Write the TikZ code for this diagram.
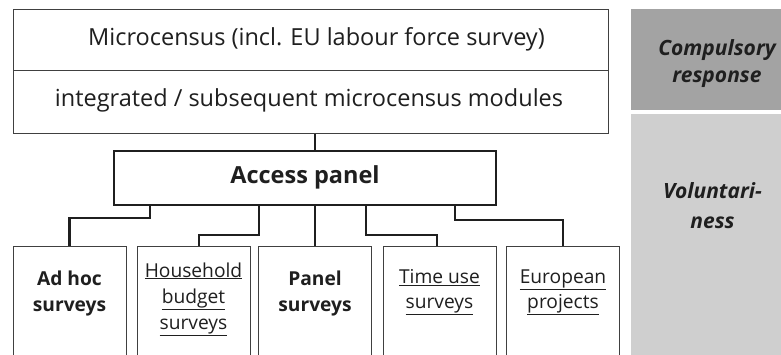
\documentclass[tikz,border=0pt]{standalone}
\usepackage{fontspec}
\setmainfont{Open Sans}
\begin{document}
\begin{tikzpicture}[x=1pt,y=-1pt,
  ink/.style={text=black!88},
  thinbox/.style={draw=black!75, line width=0.9pt, fill=white, rectangle, inner sep=0pt},
  thickbox/.style={draw=black!88, line width=2.2pt, fill=white, rectangle, inner sep=0pt},
  conn/.style={draw=black!88, line width=2.2pt},
  survey/.style={thinbox, minimum width=113pt, minimum height=140pt, anchor=north},
  toptxt/.style={ink, anchor=base, inner sep=0pt, font=\fontsize{23.5}{28}\selectfont},
  stxt/.style={ink, anchor=base, inner sep=0pt, font=\fontsize{19.2}{24}\selectfont},
  sbold/.style={stxt, font=\fontsize{19.2}{24}\selectfont\bfseries},
  sidetxt/.style={ink, anchor=base, inner sep=0pt, font=\fontsize{21}{26}\selectfont\bfseries\itshape}]
\useasboundingbox (0,0) rectangle (781,354);
\clip (0,0) rectangle (781,354);

% response categories on the right
\node[fill=black!36, minimum width=160pt, minimum height=101pt, anchor=north west, inner sep=0pt] (comp) at (631,9) {};
\node[fill=black!19, minimum width=160pt, minimum height=250pt, anchor=north west, inner sep=0pt] (vol) at (631,114) {};
\node[sidetxt] (comp1) at (717,55) {Compulsory};
\node[sidetxt] (comp2) at (717,82) {response};
\node[sidetxt] (vol1) at (712.5,198) {Voluntari-};
\node[sidetxt] (vol2) at (712.5,228) {ness};

% microcensus block
\node[thinbox, minimum width=595pt, minimum height=61pt] (mc1) at (310.5,39.5) {};
\node[thinbox, minimum width=595pt, minimum height=63pt, anchor=north] (mc2) at (mc1.south) {};
\node[toptxt] (mc1t) at ([xshift=6pt,yshift=-5.5pt]mc1.center) {Microcensus (incl. EU labour force survey)};
\node[toptxt] (mc2t) at ([xshift=-1.5pt,yshift=-4.5pt]mc2.center) {integrated / subsequent microcensus modules};

% survey boxes (open towards the bottom)
\node[survey] (b1) at (69.5,246) {};
\node[survey] (b2) at (193.5,246) {};
\node[survey] (b3) at (315,246) {};
\node[survey] (b4) at (439.5,246) {};
\node[survey] (b5) at (563,246) {};
\node[sbold] (b1a) at ([yshift=-39pt]b1.north) {Ad hoc};
\node[sbold] (b1b) at ([yshift=-65pt]b1.north) {surveys};
\node[stxt] (b2a) at ([yshift=-31pt]b2.north) {\underline{Household}};
\node[stxt] (b2b) at ([yshift=-57pt]b2.north) {\underline{budget}};
\node[stxt] (b2c) at ([yshift=-83pt]b2.north) {\underline{surveys}};
\node[sbold] (b3a) at ([yshift=-39pt]b3.north) {Panel};
\node[sbold] (b3b) at ([yshift=-65pt]b3.north) {surveys};
\node[stxt] (b4a) at ([yshift=-37.5pt]b4.north) {\underline{Time use}};
\node[stxt] (b4b) at ([yshift=-62pt]b4.north) {\underline{surveys}};
\node[stxt] (b5a) at ([yshift=-37.5pt]b5.north) {\underline{European}};
\node[stxt] (b5b) at ([yshift=-62pt]b5.north) {\underline{projects}};

% access panel
\node[thickbox, minimum width=382pt, minimum height=54pt] (ap) at (305,178) {};
\node[toptxt, font=\fontsize{23.5}{28}\selectfont\bfseries] (apt) at ([yshift=-5pt]ap.center) {Access panel};

% connectors
\draw[conn] (mc2.south -| b3.north) -- (ap.north -| b3.north);
\draw[conn] ([xshift=37pt]ap.south west) |- ([yshift=28pt]b1.north) -- (b1.north);
\draw[conn] ([xshift=146pt]ap.south west) |- ([xshift=5.5pt,yshift=11pt]b2.north) -- ([xshift=5.5pt]b2.north);
\draw[conn] (ap.south -| b3.north) -- (b3.north);
\draw[conn] ([xshift=253pt]ap.south west) |- ([xshift=-2.5pt,yshift=11pt]b4.north) -- ([xshift=-2.5pt]b4.north);
\draw[conn] ([xshift=342pt]ap.south west) |- ([yshift=26pt]b5.north) -- (b5.north);
\end{tikzpicture}
\end{document}
